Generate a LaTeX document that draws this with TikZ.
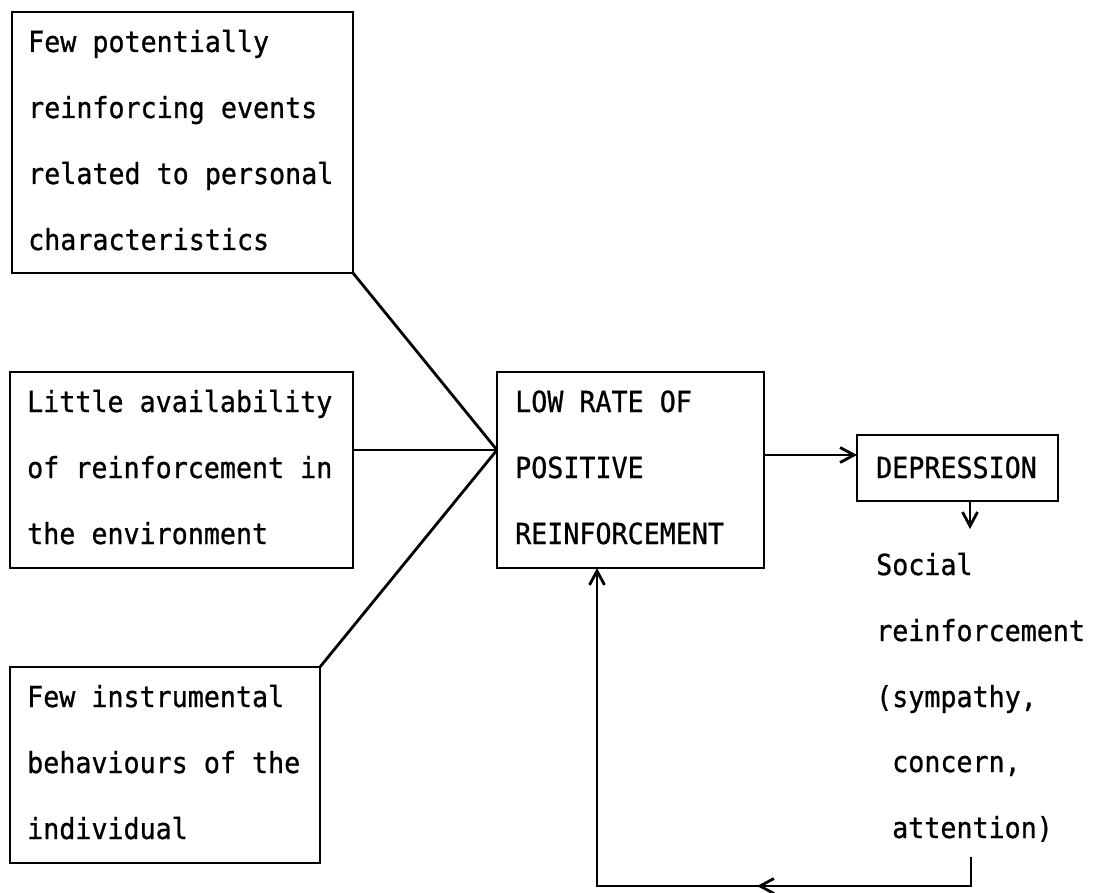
\documentclass[tikz,border=0pt]{standalone}
\usepackage{fontspec}
\newfontfamily\twfont{DejaVu Sans Mono}[FakeStretch=0.92,FakeBold=0.8]
\usetikzlibrary{arrows.meta,calc}
\begin{document}
\begin{tikzpicture}[x=1pt,y=-1pt,
  box/.style={draw, line width=2.8pt, rectangle, inner sep=0pt, outer sep=0pt, anchor=north west},
  txt/.style={inner sep=0pt, anchor=base west, font=\twfont\fontsize{29pt}{29pt}\selectfont},
  link/.style={line width=2.8pt},
  arr/.style={line width=2.8pt, -{Straight Barb[length=14pt,width=15pt]}}]
\useasboundingbox (0,0) rectangle (1102,893);

% boxes
\node[box, minimum width=341pt, minimum height=261pt] (b1) at (12,12) {};
\node[box, minimum width=343pt, minimum height=196pt] (b2) at (10,372) {};
\node[box, minimum width=310pt, minimum height=196pt] (b3) at (10,667) {};
\node[box, minimum width=267pt, minimum height=196pt] (low) at (497,372) {};
\node[box, minimum width=201pt, minimum height=66pt] (dep) at (857,435) {};

% texts
\node[txt] (t1a) at (28,52) {Few potentially};
\node[txt] (t1b) at (28,118) {reinforcing events};
\node[txt] (t1c) at (28,184) {related to personal};
\node[txt] (t1d) at (28,250) {characteristics};

\node[txt] (t2a) at (27,412) {Little availability};
\node[txt] (t2b) at (27,478) {of reinforcement in};
\node[txt] (t2c) at (27,544) {the environment};

\node[txt] (t3a) at (27,707) {Few instrumental};
\node[txt] (t3b) at (27,773) {behaviours of the};
\node[txt] (t3c) at (27,839) {individual};

\node[txt] (tla) at (515,412) {LOW RATE OF};
\node[txt] (tlb) at (515,478) {POSITIVE};
\node[txt] (tlc) at (515,544) {REINFORCEMENT};

\node[txt] (td) at (876,478) {DEPRESSION};

\node[txt] (sa) at (876,575) {Social};
\node[txt] (sb) at (876,641) {reinforcement};
\node[txt] (sc) at (876,707) {(sympathy,};
\node[txt] (sd) at (892,772) {concern,};
\node[txt] (se) at (892,838) {attention)};

% connectors
\coordinate (conv) at (497,450);
\draw[link] (b1.south east) -- (conv);
\draw[link] (b2.east |- conv) -- (conv);
\draw[link] (b3.north east) -- (conv);

\coordinate (ra) at (764,455);
\draw[arr] (low.east |- ra) -- (dep.west |- ra);

\coordinate (da) at (970,529);
\draw[arr] (dep.south -| da) -- (da);

\coordinate (f1) at (971,857);
\coordinate (f2) at (971,886);
\coordinate (f3) at (597,886);
\coordinate (fm) at (757,886);
\draw[arr] (f1) -- (f2) -- (f3) -- (low.south -| f3);
\draw[arr] (f2) -- (fm);
\end{tikzpicture}
\end{document}
